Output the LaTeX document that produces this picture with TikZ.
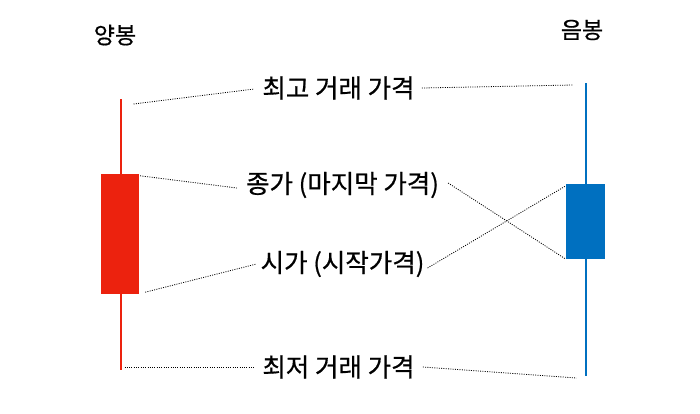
\documentclass[tikz,border=0pt]{standalone}
\usepackage{fontspec}
\newfontfamily\kr[FakeBold=0.6]{Noto Sans CJK KR}
\definecolor{bullred}{RGB}{236,34,14}
\definecolor{bearblue}{RGB}{0,112,192}
\begin{document}
\begin{tikzpicture}[x=1pt,y=-1pt]

    \tikzset{
      price/.style={
        font=\kr\fontsize{25.5}{30}\selectfont,
        inner sep=0pt,
      },
      kind/.style={
        font=\kr\fontsize{23}{27}\selectfont,
        inner sep=0pt,
      },
      body/.style={
        draw=none,
        inner sep=0pt,
      },
      guide/.style={
        black,
        line width=0.8pt,
        dash pattern=on 1pt off 1.3pt,
      },
    }
    \useasboundingbox (0,0) rectangle (700,413);
	% candles
	\draw[bullred, line width=2pt] (120.5,99) coordinate (uptop) -- (120.5,370) coordinate (upbot);
	\node[body, fill=bullred, minimum width=38, minimum height=120] (upbody) at (120,234) {};
	\draw[bearblue, line width=2pt] (585.5,83) coordinate (dntop) -- (585.5,376) coordinate (dnbot);
	\node[body, fill=bearblue, minimum width=39, minimum height=75] (dnbody) at (585.5,221.5) {};
	% titles
	\node[kind] (upname) at (115,35) {양봉};
	\node[kind] (dnname) at (582,30) {음봉};
	% labels
	\node[price] (high) at (338.5,88) {최고 거래 가격};
	\node[price] (close) at (342.5,185) {종가 (마지막 가격)};
	\node[price] (open) at (342.5,264) {시가 (시작가격)};
	\node[price] (low) at (338.5,367) {최저 거래 가격};
	% guides
	\draw[guide] ([shift={(13,5)}]uptop) -- ([xshift=-8pt,yshift=-1pt]high.west);
	\draw[guide] ([xshift=7pt]high.east) -- ([shift={(-13,2)}]dntop);
	\draw[guide] ([shift={(1,2)}]upbody.north east) -- ([xshift=-9pt,yshift=-3pt]close.west);
	\draw[guide] ([xshift=9pt,yshift=2pt]close.east) -- (dnbody.south west);
	\draw[guide] ([shift={(6,-2)}]upbody.south east) -- ([xshift=-4pt]open.west);
	\draw[guide] ([xshift=3pt,yshift=-4pt]open.east) -- ([shift={(0,2)}]dnbody.north west);
	\draw[guide] ([shift={(4,-3)}]upbot) -- ([xshift=-7pt]low.west);
	\draw[guide] ([xshift=8pt]low.east) -- ([shift={(-9,2)}]dnbot);

\end{tikzpicture}
\end{document}
